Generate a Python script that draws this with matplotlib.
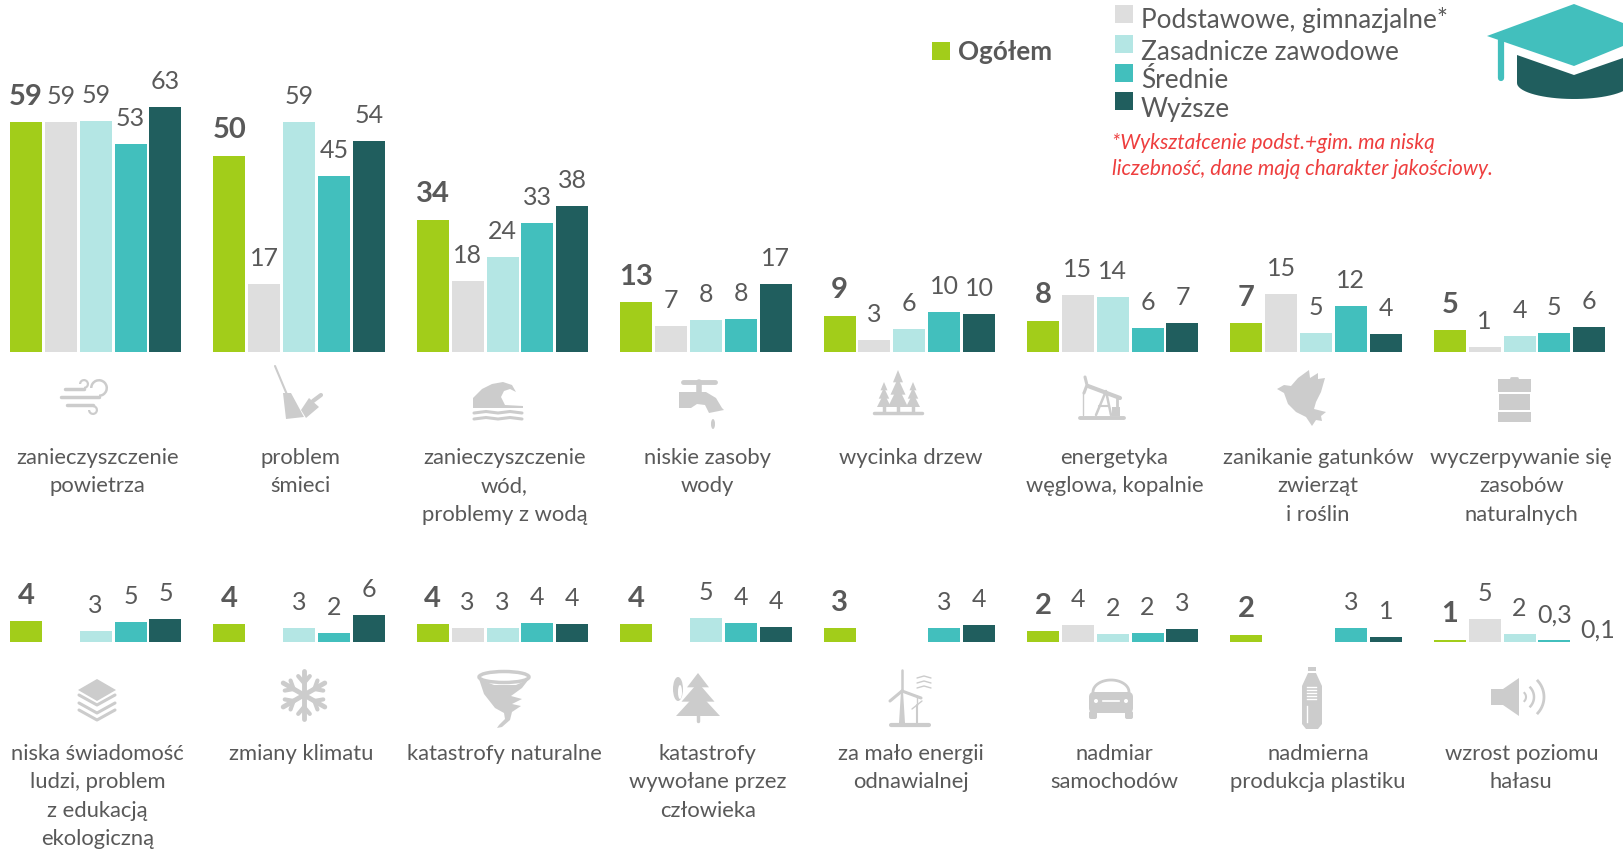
import numpy as np
import matplotlib
matplotlib.use('Agg')
import matplotlib.pyplot as plt
from matplotlib.patches import Rectangle, Polygon, Circle, Ellipse, Wedge, FancyBboxPatch

plt.rcParams['font.family'] = ['Lato', 'DejaVu Sans']

W, H = 1623, 852
GREEN, GREY, PALE, TEAL, DARK = '#a2cd1a', '#dedede', '#b4e6e4', '#42bfbd', '#205e5e'
colors = [GREEN, GREY, PALE, TEAL, DARK]
TXT = '#595959'
ICON = '#cccccc'
nan = float('nan')

# heights, one row per topic, columns follow the legend
top_vals = [
    [59, 59, 59.4, 53.4, 63],
    [50.4, 17.5, 59.2, 45.3, 54.2],
    [34, 18.3, 24.5, 33.2, 37.5],
    [12.8, 6.6, 8.2, 8.5, 17.5],
    [9.3, 3.2, 5.9, 10.4, 9.8],
    [8, 14.6, 14.1, 6.1, 7.4],
    [7.4, 14.9, 4.8, 11.7, 4.5],
    [5.6, 1.3, 4, 5, 6.4],
]
top_labels = [
    ['59', '59', '59', '53', '63'],
    ['50', '17', '59', '45', '54'],
    ['34', '18', '24', '33', '38'],
    ['13', '7', '8', '8', '17'],
    ['9', '3', '6', '10', '10'],
    ['8', '15', '14', '6', '7'],
    ['7', '15', '5', '12', '4'],
    ['5', '1', '4', '5', '6'],
]
bottom_vals = [
    [4.4, nan, 2.4, 4.2, 4.9],
    [3.8, nan, 2.9, 2, 5.8],
    [3.8, 2.9, 3.1, 4, 3.8],
    [3.8, nan, 5.1, 4, 3.3],
    [2.9, nan, nan, 2.9, 3.6],
    [2.3, 3.6, 1.8, 2, 2.7],
    [1.6, nan, nan, 2.9, 1.1],
    [0.5, 5, 1.8, 0.35, 0.1],
]
bottom_labels = [
    ['4', '', '3', '5', '5'],
    ['4', '', '3', '2', '6'],
    ['4', '3', '3', '4', '4'],
    ['4', '', '5', '4', '4'],
    ['3', '', '', '3', '4'],
    ['2', '4', '2', '2', '3'],
    ['2', '', '', '3', '1'],
    ['1', '5', '2', '0,3', '0,1'],
]
top_names = ['zanieczyszczenie\npowietrza', 'problem\nśmieci',
             'zanieczyszczenie\nwód,\nproblemy z wodą', 'niskie zasoby\nwody',
             'wycinka drzew', 'energetyka\nwęglowa, kopalnie',
             'zanikanie gatunków\nzwierząt\ni roślin',
             'wyczerpywanie się\nzasobów\nnaturalnych']
bottom_names = ['niska świadomość\nludzi, problem\nz edukacją\nekologiczną',
                'zmiany klimatu', 'katastrofy naturalne',
                'katastrofy\nwywołane przez\nczłowieka',
                'za mało energii\nodnawialnej', 'nadmiar\nsamochodów',
                'nadmierna\nprodukcja plastiku', 'wzrost poziomu\nhałasu']
legend_names = ['Ogółem', 'Podstawowe, gimnazjalne*', 'Zasadnicze zawodowe', 'Średnie', 'Wyższe']
note = '*Wykształcenie podst.+gim. ma niską\nliczebność, dane mają charakter jakościowy.'

fig = plt.figure(figsize=(W / 100, H / 100), dpi=100, facecolor='white')

# overlay in pixel coordinates, y going down, for texts and icons
ov = fig.add_axes([0, 0, 1, 1], zorder=3)
ov.set_xlim(0, W)
ov.set_ylim(H, 0)
ov.axis('off')
ov.patch.set_alpha(0)


def bar_row(vals, labels, y_base, px_per_unit):
    # the axes goes from the top of the picture down to the baseline
    ax = fig.add_axes([0, 1 - y_base / H, 1, y_base / H], zorder=1)
    ax.set_xlim(0, W)
    ax.set_ylim(0, y_base / px_per_unit)
    ax.axis('off')
    for g, (vs, ls) in enumerate(zip(vals, labels)):
        for k, (v, l) in enumerate(zip(vs, ls)):
            x = 10 + g * 203.4 + k * 34.85
            if v == v:
                ax.bar(x, v, width=32, align='edge', color=colors[k])
            if l:
                dx = 8 if l == '0,1' else 0
                dy = 14 if l == '0,1' else 0
                y = y_base - (v * px_per_unit) - 25.5 + dy
                ov.text(x + 16 + dx, y, l, ha='center', va='center', color=TXT,
                        fontsize=21 if k == 0 else 18,
                        fontweight='bold' if k == 0 else 'normal')


bar_row(top_vals, top_labels, 352, 3.89)
bar_row(bottom_vals, bottom_labels, 642, 4.66)

for g, name in enumerate(top_names):
    ov.text(97.5 + g * 203.4, 448, name, ha='center', va='top', color=TXT,
            fontsize=15.8, linespacing=1.52)
for g, name in enumerate(bottom_names):
    ov.text(97.5 + g * 203.4, 744, name, ha='center', va='top', color=TXT,
            fontsize=15.8, linespacing=1.52)

# legend
leg_pos = [(932, 42, 958, 52), (1115, 5, 1141, 20), (1115, 35, 1141, 53),
           (1115, 64, 1141, 81), (1115, 92, 1141, 109)]
for (sx, sy, tx, ty), c, name in zip(leg_pos, colors, legend_names):
    ov.add_patch(Rectangle((sx, sy), 18, 18, color=c, lw=0))
    ov.text(tx, ty, name, ha='left', va='center', color=TXT,
            fontsize=18.8 if c != GREEN else 18.7, fontweight='bold' if c == GREEN else 'normal')
ov.text(1112, 156, note, ha='left', va='center', color='#ee3e3e', fontsize=15,
        style='italic', linespacing=1.43)

# graduation cap
bowl = [(1574 + 57 * np.cos(a), 83 + 16 * np.sin(a)) for a in np.radians(np.linspace(30, 180, 30))]
ov.add_patch(Polygon([(1517, 55), (1574, 75), (1623, 58), (1623, 92)] + bowl, color=DARK, lw=0))
ov.add_patch(Polygon([(1487, 36), (1574, 4), (1623, 23), (1623, 46), (1574, 66)], color=TEAL, lw=0))
ov.plot([1501, 1501], [40, 78], color=TEAL, lw=4.5, solid_capstyle='round')


def grey_line(xs, ys, lw=2.5):
    ov.plot(xs, ys, color=ICON, lw=lw, solid_capstyle='round')


def grey_poly(pts, cx=0, cy=0):
    ov.add_patch(Polygon([(x + cx, y + cy) for x, y in pts], color=ICON, lw=0))


def wind(cx, cy):
    grey_line([cx - 22, cx - 3], [cy - 8, cy - 8])
    grey_line([cx - 26, cx + 12], [cy, cy])
    grey_line([cx - 20, cx + 6], [cy + 8, cy + 8])
    ov.add_patch(Wedge((cx - 3, cy - 13), 5, -180, 90, width=2.2, color=ICON, lw=0))
    ov.add_patch(Wedge((cx + 12, cy - 9), 9, -180, 90, width=2.5, color=ICON, lw=0))
    ov.add_patch(Wedge((cx + 6, cy + 13), 5, -90, 180, width=2.2, color=ICON, lw=0))


def broom(cx, cy):
    grey_line([cx - 22, cx - 9], [cy - 27, cy + 4], lw=1.5)
    grey_poly([(-14, 0), (-6, 0), (7, 24), (-11, 26)], cx, cy)
    grey_poly([(12, 5), (22, 14), (9, 25), (4, 17)], cx, cy)
    grey_line([cx + 16, cx + 24], [cy + 8, cy + 2], lw=3)


def wave(cx, cy):
    grey_poly([(-25, 7), (-25, 0), (-16, -9), (-6, -14), (5, -16), (14, -13), (18, -6), (12, -9),
               (6, -7), (3, -1), (7, 7), (25, 8), (25, 10), (-25, 10)], cx, cy)
    for d in (15, 21):
        grey_line([cx - 24, cx - 12, cx, cx + 12, cx + 24], [cy + d, cy + d - 1.5, cy + d, cy + d - 1.5, cy + d], lw=2.2)


def tap(cx, cy):
    grey_line([cx - 16, cx + 16], [cy - 13, cy - 13], lw=3.5)
    grey_line([cx, cx], [cy - 13, cy - 3], lw=4)
    grey_poly([(-20, -3), (7, -3), (17, 3), (23, 13), (25, 15), (10, 18), (6, 10), (-2, 9), (-8, 13), (-20, 13)], cx, cy)
    ov.add_patch(Ellipse((cx + 14, cy + 29), 4, 10, color=ICON, lw=0))


def tree(cx, top, bottom, w):
    h = bottom - top
    for i in range(3):
        grey_poly([(cx - w * (i + 2) / 4, top + h * (i + 1) / 3), (cx, top + h * i / 4.5),
                   (cx + w * (i + 2) / 4, top + h * (i + 1) / 3)])
    grey_line([cx, cx], [bottom - 2, bottom + 5], lw=2.5)


def trees(cx, cy):
    tree(cx - 14, cy - 10, cy + 15, 7)
    tree(cx + 15, cy - 10, cy + 15, 7)
    tree(cx, cy - 22, cy + 15, 10)
    grey_line([cx - 24, cx + 24], [cy + 21, cy + 21], lw=2.5)


def pump(cx, cy):
    grey_line([cx - 14, cx + 18], [cy - 11, cy + 1], lw=3)
    grey_line([cx - 17, cx - 15, cx - 18], [cy - 20, cy - 12, cy - 4], lw=2.2)
    grey_line([cx - 19, cx - 19], [cy - 5, cy + 18], lw=1)
    grey_line([cx - 6, cx + 4, cx + 9], [cy + 18, cy - 6, cy + 18], lw=1.8)
    grey_line([cx - 3, cx + 6], [cy + 9, cy + 9], lw=1.5)
    ov.add_patch(Rectangle((cx + 10, cy + 10), 8, 9, color=ICON, lw=0))
    grey_line([cx + 15, cx + 15], [cy, cy + 10], lw=2)
    grey_line([cx - 22, cx + 22], [cy + 21, cy + 21], lw=2.8)


def bird(cx, cy):
    grey_poly([(-26, -8), (-19, -12), (-12, -11), (-5, -19), (6, -27), (7, -19), (15, -24), (15, -18), (22, -19),
               (18, -5), (13, 5), (11, 12), (23, 15), (18, 19), (19, 24), (13, 23), (9, 29), (3, 20),
               (-7, 15), (-15, 7), (-19, -4)], cx, cy)


def barrel(cx, cy):
    ov.add_patch(Rectangle((cx - 16, cy - 21), 33, 13, color=ICON, lw=0))
    ov.add_patch(Rectangle((cx - 15, cy - 6), 31, 16, color=ICON, lw=0))
    ov.add_patch(Rectangle((cx - 16, cy + 12), 33, 10, color=ICON, lw=0))
    grey_line([cx - 3, cx + 3], [cy - 22, cy - 22], lw=2)


def books(cx, cy):
    grey_poly([(0, -18), (19, -7), (0, 4), (-19, -7)], cx, cy)
    for d in (0, 8, 15):
        grey_line([cx - 18, cx, cx + 18], [cy + d - 2, cy + d + 8, cy + d - 2], lw=2.2)


def snowflake(cx, cy):
    for a in np.radians([30, 90, 150]):
        c, s = np.cos(a), np.sin(a)
        grey_line([cx - 24 * c, cx + 24 * c], [cy - 24 * s, cy + 24 * s], lw=3.5)
    for a in np.radians(np.arange(30, 390, 60)):
        c, s = np.cos(a), np.sin(a)
        for b in (0.7, -0.7):
            c2, s2 = np.cos(a + b), np.sin(a + b)
            grey_line([cx + 12 * c, cx + 12 * c + 9 * c2], [cy + 12 * s, cy + 12 * s + 9 * s2], lw=3)


def tornado(cx, cy):
    ov.add_patch(Ellipse((cx, cy - 22), 50, 11, fill=False, ec=ICON, lw=2.5))
    grey_poly([(-25, -20), (-20, -5), (-9, 9), (0, 14), (1, 20), (-5, 26), (-7, 29), (-2, 28), (6, 21), (8, 13),
               (17, 7), (8, 5), (18, 0), (7, -3), (18, -11), (25, -20), (12, -14), (-10, -14)], cx, cy)


def fire_tree(cx, cy):
    tree(cx, cy - 24, cy + 19, 22)
    ov.add_patch(Ellipse((cx - 20, cy - 8), 10, 24, color=ICON, lw=0))
    ov.add_patch(Ellipse((cx - 18, cy - 5), 4, 14, color='white', lw=0))


def turbine(cx, cy):
    grey_poly([(-1, -6), (1, -6), (3, 26), (-3, 26)], cx, cy)
    grey_line([cx, cx], [cy - 6, cy - 27], lw=1.8)
    grey_line([cx, cx - 12], [cy - 6, cy + 4], lw=2.2)
    grey_line([cx, cx + 19], [cy - 6, cy + 1], lw=2.2)
    for d in (-19, -14, -9):
        grey_line([cx + 15, cx + 22, cx + 29], [cy + d, cy + d - 2, cy + d], lw=1)
    grey_line([cx + 15, cx + 15], [cy + 8, cy + 26], lw=1.5)
    grey_line([cx + 15, cx + 15], [cy + 8, cy - 1], lw=1)
    grey_line([cx + 10, cx + 20], [cy + 12, cy + 4], lw=1)
    grey_line([cx - 11, cx + 27], [cy + 28, cy + 28], lw=3)


def car(cx, cy):
    ov.add_patch(FancyBboxPatch((cx - 22, cy - 4), 44, 21, boxstyle='round,pad=0,rounding_size=5', color=ICON, lw=0))
    a = np.radians(np.linspace(180, 360, 30))
    ov.plot(cx + 18 * np.cos(a), cy - 4 + 12 * np.sin(a), color=ICON, lw=2)
    for d in (-18, 18):
        ov.add_patch(FancyBboxPatch((cx + d - 4, cy + 15), 8, 8, boxstyle='round,pad=0,rounding_size=2', color=ICON, lw=0))
    ov.add_patch(Circle((cx - 15, cy + 5), 2, color='white', lw=0))
    ov.add_patch(Circle((cx + 15, cy + 5), 2, color='white', lw=0))
    ov.plot([cx - 8, cx + 8], [cy + 5, cy + 5], color='white', lw=1.2)


def bottle(cx, cy):
    grey_poly([(-4, -31), (4, -31), (4, -27), (-4, -27)], cx, cy)
    grey_poly([(-4, -25), (4, -25), (10, -12), (10, 26), (6, 31), (-6, 31), (-10, 26), (-10, -12)], cx, cy)
    for d in (-11, -8, -5, -2, 1):
        ov.plot([cx - 5, cx + 4], [cy + d, cy + d], color='white', lw=1)
    ov.plot([cx - 5, cx - 5], [cy + 8, cy + 24], color='white', lw=1)


def speaker(cx, cy):
    grey_poly([(-29, -8), (-17, -8), (-1, -19), (-1, 19), (-17, 8), (-29, 8)], cx, cy)
    for r, lw in ((6, 1.5), (14, 1.8), (24, 2)):
        a = np.radians(np.linspace(-42, 42, 20))
        ov.plot(cx + r * np.cos(a), cy + r * np.sin(a), color=ICON, lw=lw)


top_icons = [(wind, 87, 397), (broom, 297, 393), (wave, 498, 398), (tap, 699, 395),
             (trees, 898, 392), (pump, 1102, 397), (bird, 1303, 397), (barrel, 1514, 400)]
bottom_icons = [(books, 97, 697), (snowflake, 304, 695), (tornado, 504, 699), (fire_tree, 698, 697),
                (turbine, 902, 697), (car, 1111, 696), (bottle, 1312, 698), (speaker, 1520, 697)]
for fn, x, y in top_icons + bottom_icons:
    fn(x, y)

ov.set_xlim(0, W)
ov.set_ylim(H, 0)
fig.savefig('out.png', dpi=100)
